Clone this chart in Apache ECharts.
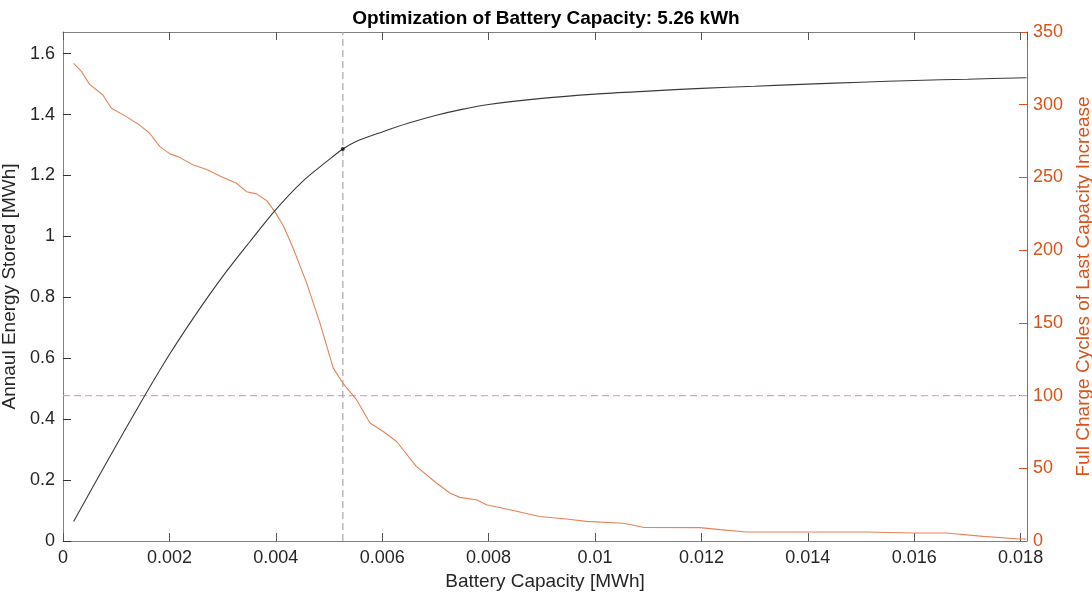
<!DOCTYPE html>
<html>
<head>
<meta charset="utf-8">
<title>Optimization of Battery Capacity</title>
<script src="https://cdn.jsdelivr.net/npm/echarts@6/dist/echarts.min.js"></script>
<style>
  html, body { margin: 0; padding: 0; background: #ffffff; }
  #chart { width: 1092px; height: 597px; }
</style>
</head>
<body>
<div id="chart"></div>
<script>
// Annual energy stored [MWh] against battery capacity [MWh]
const capacityEnergy = [0.0002, 0.0008, 0.0015, 0.002, 0.0025, 0.003, 0.0035, 0.004, 0.0045, 0.005,
  0.00526, 0.0055, 0.006, 0.0065, 0.007, 0.0075, 0.008, 0.009, 0.01, 0.011, 0.012, 0.013,
  0.014, 0.015, 0.016, 0.017, 0.01811];
const energyStored = [0.064, 0.252, 0.466, 0.612, 0.745, 0.868, 0.98, 1.088, 1.18, 1.252,
  1.287, 1.311, 1.343, 1.372, 1.397, 1.417, 1.433, 1.453, 1.467, 1.477, 1.486, 1.493,
  1.50, 1.506, 1.512, 1.516, 1.521];

// Full charge cycles of the last capacity increase
const capacityCycles = [0.0002, 0.00035, 0.0005, 0.00075, 0.00091, 0.00119, 0.00144, 0.00163, 0.00182,
  0.00201, 0.00216, 0.00245, 0.0027, 0.00295, 0.00326, 0.00345, 0.00364, 0.00383, 0.00398,
  0.00414, 0.00433, 0.00458, 0.00483, 0.00508, 0.00526, 0.00552, 0.00577, 0.00602, 0.00627,
  0.00664, 0.00702, 0.00727, 0.00746, 0.00777, 0.00796, 0.0084, 0.00896, 0.00946, 0.00984,
  0.01053, 0.01084, 0.0109, 0.01197, 0.01235, 0.01285, 0.0151, 0.01598, 0.0166, 0.0173,
  0.01798, 0.01811];
const chargeCycles = [328.5, 322.7, 314, 306.7, 297.6, 291.8, 286, 280.4, 271.2,
  266.2, 264.3, 258.6, 255.5, 251, 246, 240.2, 238.7, 234, 226.5,
  217, 201, 177.3, 149.8, 118.9, 108.6, 97, 81.1, 75.3, 68.4,
  51.3, 39.9, 33, 30, 28.4, 24.9, 21.5, 16.9, 15.1, 13.5,
  12.2, 10, 9.4, 9.2, 7.8, 6.2, 6.2, 5.5, 5.5, 3.2,
  1.4, 1.4];

// Chosen capacity and the cycle threshold drawn as reference lines
const optimalCapacity = 0.00526;
const optimalEnergy = 1.287;
const cycleThreshold = 100;

const xTicks = [0, 0.002, 0.004, 0.006, 0.008, 0.01, 0.012, 0.014, 0.016, 0.018];
const leftTicks = [0, 0.2, 0.4, 0.6, 0.8, 1, 1.2, 1.4, 1.6];
const rightTicks = [0, 50, 100, 150, 200, 250, 300, 350];

const X_MAX = 0.01812;
const LEFT_MAX = 1.671;
const RIGHT_MAX = 350;

const FONT = "'Liberation Sans', Arial, Helvetica, sans-serif";
const AXIS_GRAY = '#808080';
const TEXT_DARK = '#262626';
const ORANGE = '#D95319';

const zip = (xs, ys) => xs.map((x, i) => [x, ys[i]]);
const fmt = v => String(+(+v).toFixed(4));
const onTick = (ticks, v) => ticks.some(t => Math.abs(t - v) < 1e-9);

const chart = echarts.init(document.getElementById('chart'), null, { renderer: 'canvas' });

const xCommon = {
  type: 'value',
  min: 0,
  max: X_MAX,
  interval: xTicks[1] - xTicks[0],
  splitLine: { show: false },
  axisLine: { show: true, onZero: false, lineStyle: { color: AXIS_GRAY, width: 1 } },
  axisTick: { show: true, inside: true, length: 8, lineStyle: { color: '#555555' } }
};

chart.setOption({
  animation: false,
  backgroundColor: '#ffffff',
  title: {
    text: 'Optimization of Battery Capacity: 5.26 kWh',
    left: 'center',
    top: 4,
    textStyle: { fontFamily: FONT, fontSize: 19, fontWeight: 'bold', color: '#000000' }
  },
  grid: {
    left: 63, right: 65, top: 32, bottom: 56,
    containLabel: false,
    outerBoundsMode: 'none'
  },
  xAxis: [
    Object.assign({}, xCommon, {
      position: 'bottom',
      name: 'Battery Capacity [MWh]',
      nameLocation: 'middle',
      nameGap: 30,
      nameTextStyle: { fontFamily: FONT, fontSize: 19, color: TEXT_DARK },
      axisLabel: {
        show: true, margin: 8, showMaxLabel: false,
        fontFamily: FONT, fontSize: 18, color: TEXT_DARK,
        formatter: v => (onTick(xTicks, v) ? fmt(v) : '')
      }
    }),
    Object.assign({}, xCommon, {
      position: 'top',
      axisLabel: { show: false }
    })
  ],
  yAxis: [
    {
      type: 'value',
      position: 'left',
      min: 0,
      max: LEFT_MAX,
      interval: leftTicks[1] - leftTicks[0],
      name: 'Annaul Energy Stored [MWh]',
      nameLocation: 'middle',
      nameRotate: 90,
      nameGap: 36,
      nameTextStyle: { fontFamily: FONT, fontSize: 19, color: TEXT_DARK },
      splitLine: { show: false },
      axisLine: { show: true, onZero: false, lineStyle: { color: AXIS_GRAY, width: 1 } },
      axisTick: { show: true, inside: true, length: 8, lineStyle: { color: '#333333' } },
      axisLabel: {
        margin: 8, showMaxLabel: false,
        fontFamily: FONT, fontSize: 18, color: TEXT_DARK,
        formatter: v => (onTick(leftTicks, v) ? fmt(v) : '')
      }
    },
    {
      type: 'value',
      position: 'right',
      min: 0,
      max: RIGHT_MAX,
      interval: rightTicks[1] - rightTicks[0],
      name: 'Full Charge Cycles of Last Capacity Increase',
      nameLocation: 'middle',
      nameRotate: 90,
      nameGap: 43,
      nameTextStyle: { fontFamily: FONT, fontSize: 19, color: ORANGE },
      splitLine: { show: false },
      axisLine: { show: true, onZero: false, lineStyle: { color: ORANGE, width: 1 } },
      axisTick: { show: true, inside: true, length: 8, lineStyle: { color: ORANGE } },
      axisLabel: {
        margin: 6,
        fontFamily: FONT, fontSize: 18, color: ORANGE,
        formatter: v => fmt(v)
      }
    }
  ],
  series: [
    {
      // horizontal threshold at 100 cycles
      name: 'Cycle Threshold',
      type: 'line',
      xAxisIndex: 0,
      yAxisIndex: 1,
      data: [[0, cycleThreshold], [X_MAX, cycleThreshold]],
      showSymbol: false,
      silent: true,
      lineStyle: { color: '#f4a0b2', type: [7, 4], width: 1.3 },
      z: 1
    },
    {
      // vertical marker at the chosen capacity
      name: 'Chosen Capacity',
      type: 'line',
      xAxisIndex: 0,
      yAxisIndex: 0,
      data: [[optimalCapacity, 0], [optimalCapacity, LEFT_MAX]],
      showSymbol: false,
      silent: true,
      lineStyle: { color: '#a8a8a8', type: [7, 4], width: 1.2 },
      z: 1
    },
    {
      name: 'Full Charge Cycles',
      type: 'line',
      xAxisIndex: 0,
      yAxisIndex: 1,
      data: zip(capacityCycles, chargeCycles),
      showSymbol: false,
      lineStyle: { color: '#e6835a', width: 1.1 },
      z: 3
    },
    {
      name: 'Annual Energy Stored',
      type: 'line',
      xAxisIndex: 0,
      yAxisIndex: 0,
      data: zip(capacityEnergy, energyStored),
      smooth: 0.3,
      showSymbol: false,
      lineStyle: { color: '#3a3a3a', width: 1.1 },
      z: 4
    },
    {
      name: 'Optimum',
      type: 'scatter',
      xAxisIndex: 0,
      yAxisIndex: 0,
      data: [[optimalCapacity, optimalEnergy]],
      symbol: 'circle',
      symbolSize: 4,
      itemStyle: { color: '#111111' },
      z: 5
    }
  ]
});
</script>
</body>
</html>
